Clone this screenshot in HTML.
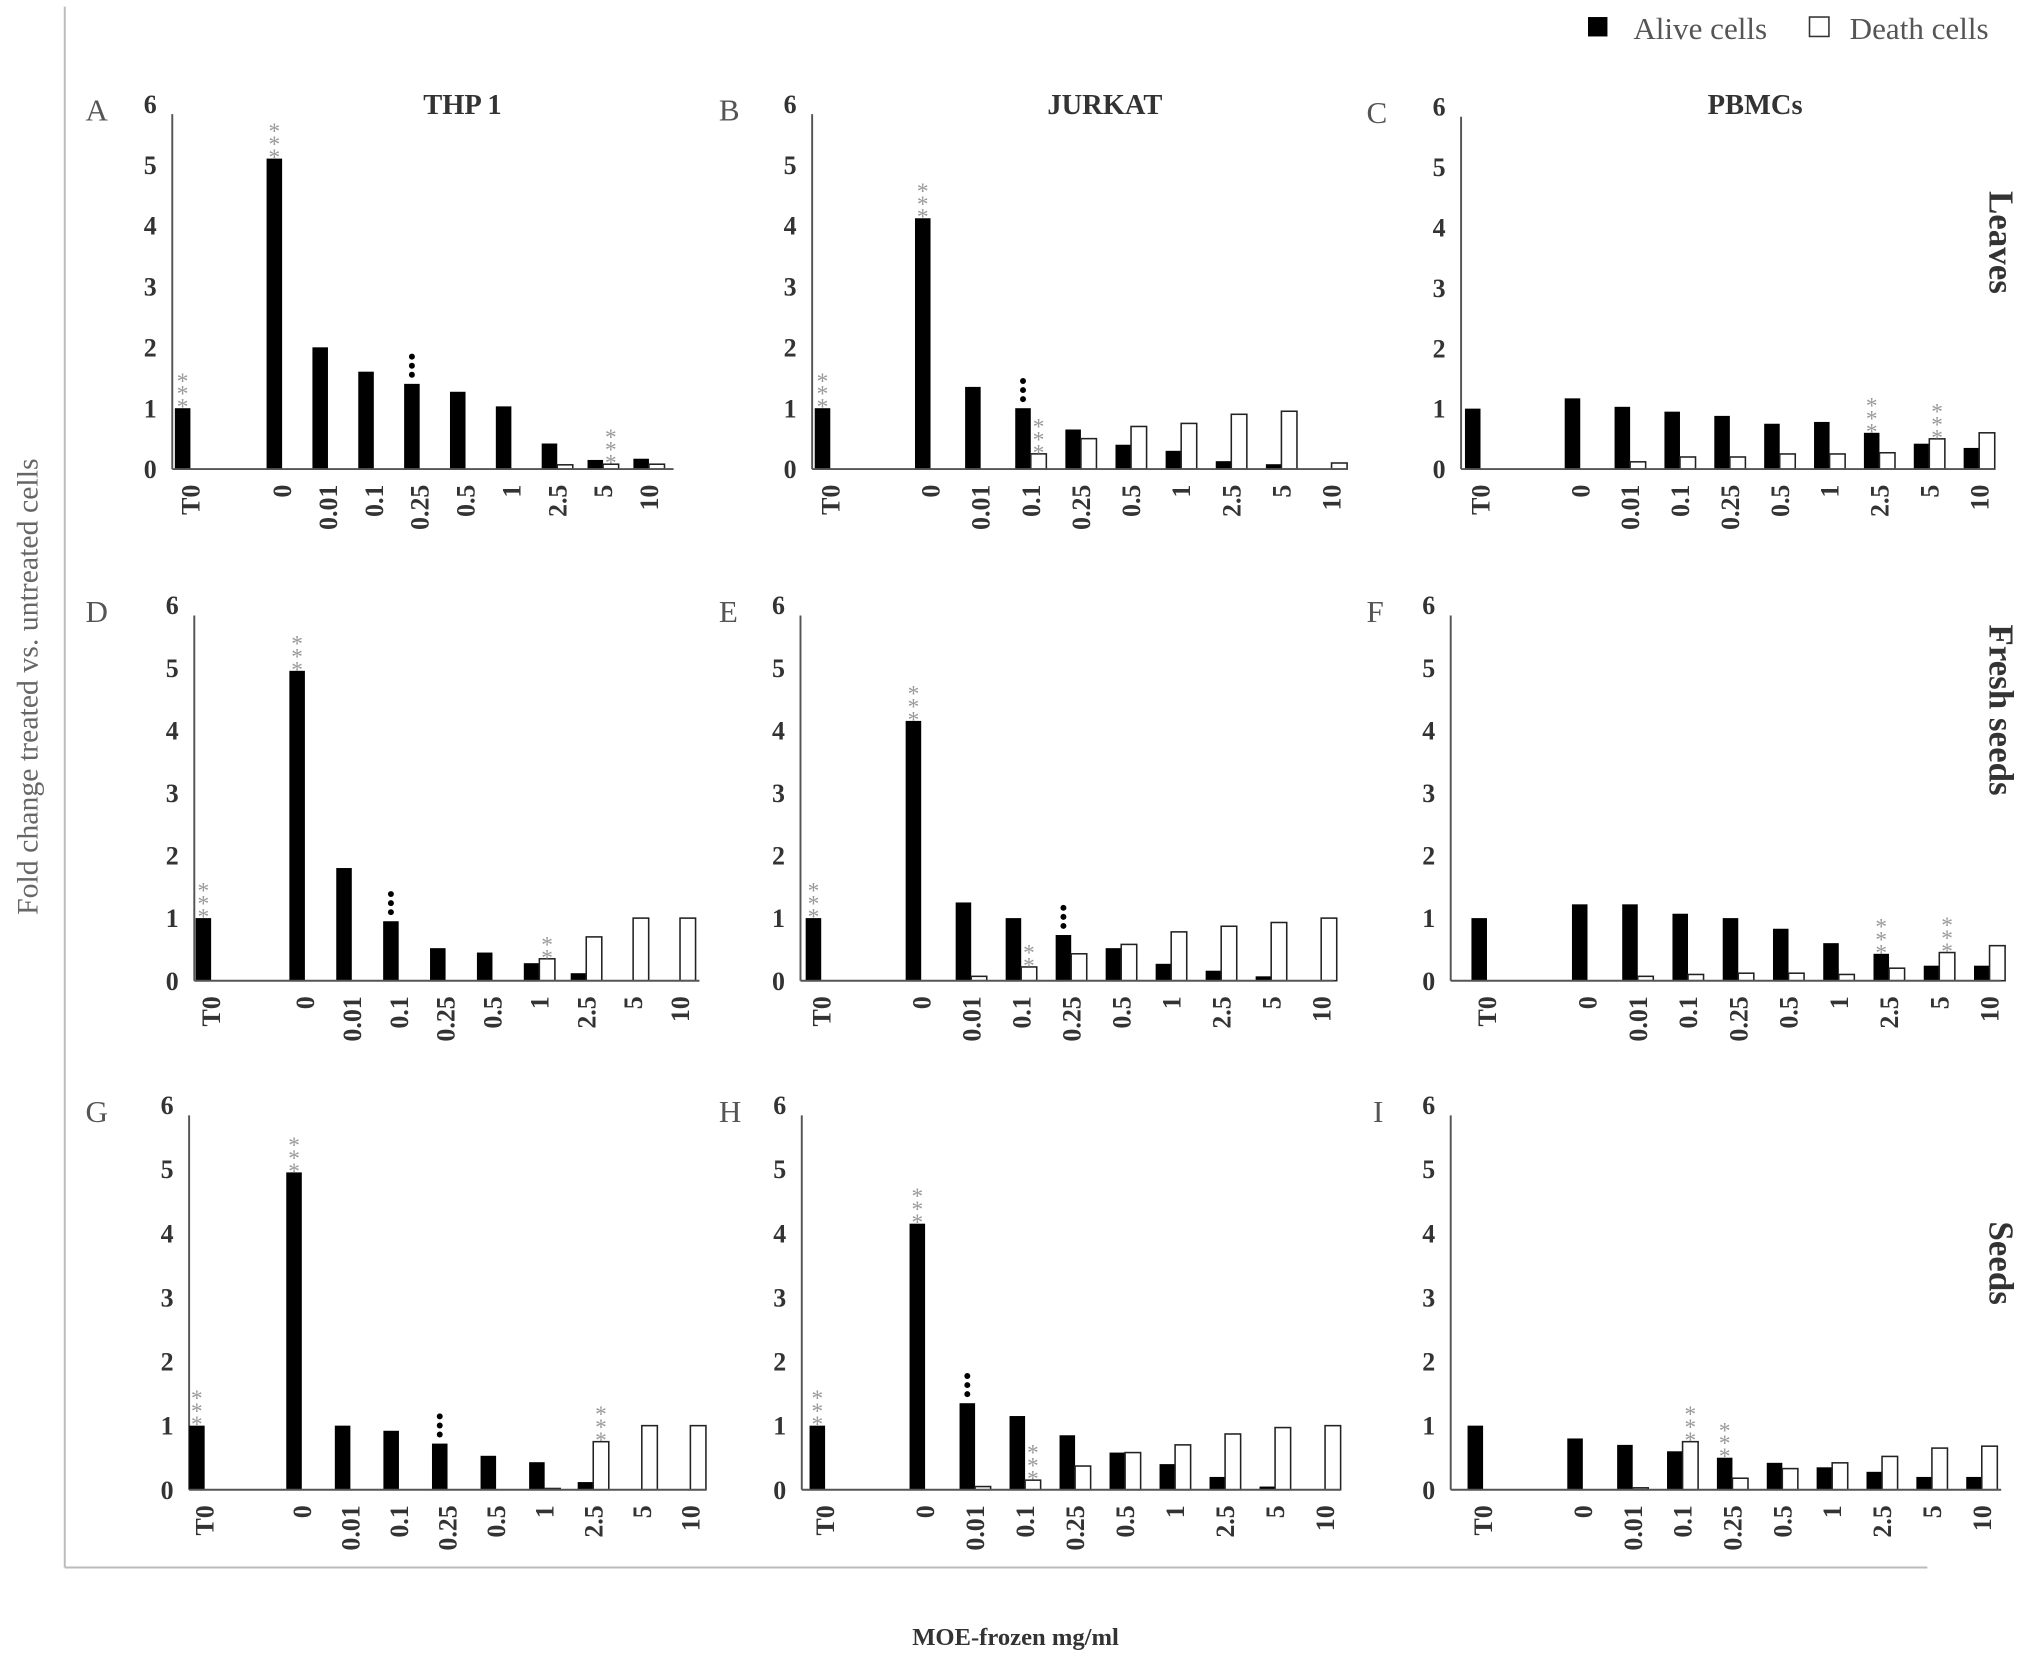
<!DOCTYPE html>
<html><head><meta charset="utf-8"><style>
html,body{margin:0;padding:0;background:#fff;}
svg{display:block;font-family:"Liberation Serif",serif;}
</style></head><body>
<svg id="fig" width="2031" height="1670" viewBox="0 0 1568 1289" xmlns="http://www.w3.org/2000/svg">
<line x1="50" y1="5" x2="50" y2="1210" stroke="#bbb" stroke-width="1.5"/>
<line x1="50" y1="1210" x2="1488" y2="1210" stroke="#bbb" stroke-width="1.5"/>
<text transform="translate(29,530) rotate(-90)" text-anchor="middle" font-size="23" fill="#666">Fold change treated vs. untreated cells</text>
<text x="784" y="1270" text-anchor="middle" font-size="19" font-weight="bold" fill="#333">MOE-frozen mg/ml</text>
<g>
<rect x="1226" y="13" width="15" height="15" fill="#000"/>
<text x="1261" y="30" font-size="24" fill="#555">Alive cells</text>
<rect x="1397" y="13" width="15" height="15" fill="#fff" stroke="#333" stroke-width="1.2"/>
<text x="1428" y="30" font-size="24" fill="#555">Death cells</text>
</g>
<text x="357" y="88" text-anchor="middle" font-size="22" font-weight="bold" fill="#333">THP 1</text>
<text x="853" y="88" text-anchor="middle" font-size="22" font-weight="bold" fill="#333">JURKAT</text>
<text x="1355" y="88" text-anchor="middle" font-size="22" font-weight="bold" fill="#333">PBMCs</text>
<text transform="translate(1536,187) rotate(90)" text-anchor="middle" font-size="27" font-weight="bold" fill="#333">Leaves</text>
<text transform="translate(1536,548) rotate(90)" text-anchor="middle" font-size="27" font-weight="bold" fill="#333">Fresh seeds</text>
<text transform="translate(1536,975) rotate(90)" text-anchor="middle" font-size="27" font-weight="bold" fill="#333">Seeds</text>
</svg>
<script>
const categories = ["T0","0","0.01","0.1","0.25","0.5","1","2.5","5","10"];
const slots = [0,2,3,4,5,6,7,8,9,10];
const yTicks = [0,1,2,3,4,5,6];
const aliveA = [1,5.1,2.0,1.6,1.4,1.27,1.03,0.42,0.15,0.17];
const deathA = [0,0,0,0,0,0,0,0.07,0.08,0.08];
const aliveB = [1,4.12,1.35,1.0,0.65,0.4,0.3,0.13,0.08,0];
const deathB = [0,0,0,0.25,0.5,0.7,0.75,0.9,0.95,0.1];
const aliveC = [1,1.17,1.03,0.95,0.88,0.75,0.78,0.6,0.42,0.35];
const deathC = [0,0,0.12,0.2,0.2,0.25,0.25,0.27,0.5,0.6];
const aliveD = [1,4.95,1.8,0.95,0.52,0.45,0.28,0.12,0,0];
const deathD = [0,0,0,0,0,0,0.35,0.7,1.0,1.0];
const aliveE = [1,4.15,1.25,1.0,0.73,0.52,0.27,0.16,0.07,0];
const deathE = [0,0,0.07,0.22,0.43,0.58,0.78,0.87,0.93,1.0];
const aliveF = [1,1.22,1.22,1.07,1.0,0.83,0.6,0.43,0.24,0.24];
const deathF = [0,0,0.07,0.1,0.12,0.12,0.1,0.2,0.45,0.56];
const aliveG = [1,4.95,1.0,0.92,0.72,0.53,0.43,0.12,0,0];
const deathG = [0,0,0,0,0,0,0.02,0.75,1.0,1.0];
const aliveH = [1,4.15,1.35,1.15,0.85,0.58,0.4,0.2,0.05,0];
const deathH = [0,0,0.05,0.15,0.37,0.58,0.7,0.87,0.97,1.0];
const aliveI = [1,0.8,0.7,0.6,0.5,0.42,0.35,0.28,0.2,0.2];
const deathI = [0,0,0.03,0.75,0.18,0.33,0.42,0.52,0.65,0.68];
const marksA = [[0,'a','***'],[1,'a','***'],[4,'a','dots'],[8,'d','***']];
const marksB = [[0,'a','***'],[1,'a','***'],[3,'a','dots'],[3,'d','***']];
const marksC = [[7,'a','***'],[8,'d','***']];
const marksD = [[0,'a','***'],[1,'a','***'],[3,'a','dots'],[6,'d','**']];
const marksE = [[0,'a','***'],[1,'a','***'],[3,'d','**'],[4,'a','dots']];
const marksF = [[7,'a','***'],[8,'d','***']];
const marksG = [[0,'a','***'],[1,'a','***'],[4,'a','dots'],[7,'d','***']];
const marksH = [[0,'a','***'],[1,'a','***'],[2,'a','dots'],[3,'d','***']];
const marksI = [[3,'d','***'],[4,'a','***']];

const panels = [
 {id:'A',alive:aliveA,death:deathA,marks:marksA,ax:133,x0:147,sp:35.4,end:520,y0:362,y6:80,lx:66},
 {id:'B',alive:aliveB,death:deathB,marks:marksB,ax:627,x0:641,sp:38.7,end:1040,y0:362,y6:80,lx:555},
 {id:'C',alive:aliveC,death:deathC,marks:marksC,ax:1128,x0:1143,sp:38.5,end:1540,y0:362,y6:82,lx:1055},
 {id:'D',alive:aliveD,death:deathD,marks:marksD,ax:150,x0:163,sp:36.2,end:540,y0:757,y6:467,lx:66},
 {id:'E',alive:aliveE,death:deathE,marks:marksE,ax:618,x0:634,sp:38.6,end:1030,y0:757,y6:467,lx:555},
 {id:'F',alive:aliveF,death:deathF,marks:marksF,ax:1120,x0:1148,sp:38.8,end:1545,y0:757,y6:467,lx:1055},
 {id:'G',alive:aliveG,death:deathG,marks:marksG,ax:146,x0:158,sp:37.5,end:545,y0:1150,y6:853,lx:66},
 {id:'H',alive:aliveH,death:deathH,marks:marksH,ax:619,x0:637,sp:38.6,end:1035,y0:1150,y6:853,lx:555},
 {id:'I',alive:aliveI,death:deathI,marks:marksI,ax:1120,x0:1145,sp:38.5,end:1545,y0:1150,y6:853,lx:1060}
];
const NS='http://www.w3.org/2000/svg';
const svg=document.getElementById('fig');
function mk(tag,attrs,parent){const e=document.createElementNS(NS,tag);for(const k in attrs)e.setAttribute(k,attrs[k]);(parent||svg).appendChild(e);return e;}
panels.forEach(p=>{
  const g=mk('g',{});
  
  
  const yScale=v=>p.y0-(p.y0-p.y6)*v/6;
  const xScale=i=>p.x0+p.sp*slots[i];
  const lt=mk('text',{x:p.lx,y:p.y6+13,'font-size':24,fill:'#555'},g);lt.textContent=p.id;
  
  
  const ya=mk('line',{x1:p.ax,y1:p.y6+8,x2:p.ax,y2:p.y0,stroke:'#555','stroke-width':1.5},g);
  
  
  yTicks.forEach(t=>{
    const tt=mk('text',{x:p.ax-12,y:yScale(t)+7,'text-anchor':'end','font-size':20,'font-weight':'bold',fill:'#333'},g);tt.textContent=t;
    
    
  });
  categories.forEach((c,i)=>{
    const cx=xScale(i);
    const hb=p.y0-yScale(p.alive[i]);
    const b=mk('rect',{x:cx-12,y:yScale(p.alive[i]),width:12,height:Math.max(hb,0),fill:'#000'},g);
    
    
    if(p.death[i]>0){
      const w=mk('rect',{x:cx,y:yScale(p.death[i]),width:12,height:p.y0-yScale(p.death[i]),fill:'#fff',stroke:'#222','stroke-width':1.2},g);
      
      
    }
    const xl=mk('text',{transform:`translate(${cx+7},${p.y0+12}) rotate(-90)`,'text-anchor':'end','font-size':20,'font-weight':'bold',fill:'#333'},g);
    xl.textContent=c;
    
    
  });
  const xa=mk('line',{x1:p.ax,y1:p.y0,x2:p.end,y2:p.y0,stroke:'#555','stroke-width':1.5},g);
  
  
  p.marks.forEach(m=>{
    const i=m[0];const isA=m[1]==='a';
    const v=isA?p.alive[i]:p.death[i];
    const cx=xScale(i)+(isA?-6:6);
    const top=yScale(v)-3;
    if(m[2]==='dots'){
      for(let k=0;k<3;k++){
        const d=mk('circle',{cx:cx,cy:top-4-k*7,r:2.3,fill:'#000'},g);
        
        
      }
    } else {
      const n=m[2].length;
      for(let k=0;k<n;k++){
        const s=mk('text',{x:cx,y:top+8-k*10,'text-anchor':'middle','font-size':18,fill:'#999'},g);
        s.textContent='*';
        
        
      }
    }
  });
});
</script>
</body></html>
